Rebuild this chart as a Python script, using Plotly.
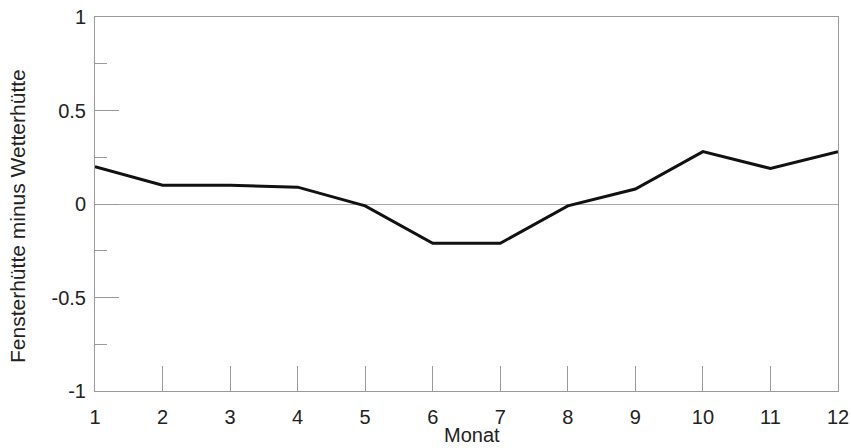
import plotly.graph_objects as go

# Monthly difference: window shelter minus standard weather shelter
months = [1, 2, 3, 4, 5, 6, 7, 8, 9, 10, 11, 12]
difference = [0.20, 0.10, 0.10, 0.09, -0.01, -0.21, -0.21, -0.01, 0.08, 0.28, 0.19, 0.28]

x_ticks = [1, 2, 3, 4, 5, 6, 7, 8, 9, 10, 11, 12]
x_tick_labels = ["1", "2", "3", "4", "5", "6", "7", "8", "9", "10", "11", "12"]
y_ticks = [-1, -0.5, 0, 0.5, 1]
y_tick_labels = ["-1", "-0.5", "0", "0.5", "1"]

x_title = "Monat"
y_title = "Fensterhütte minus Wetterhütte"

FONT = "Liberation Sans, Arial, sans-serif"
AXIS_GREY = "#9a9a9a"
TEXT = "#222222"

fig = go.Figure(
    go.Scatter(
        x=months,
        y=difference,
        mode="lines",
        line=dict(color="#111111", width=3),
        showlegend=False,
        hoverinfo="skip",
    )
)

fig.update_layout(
    width=851,
    height=448,
    margin=dict(l=95, r=13, t=17, b=57),
    paper_bgcolor="white",
    plot_bgcolor="white",
    font=dict(family=FONT, size=20, color=TEXT),
)

fig.update_xaxes(
    range=[1, 12],
    tickvals=x_ticks,
    ticktext=x_tick_labels,
    ticks="inside",
    ticklen=25,
    tickwidth=1,
    tickcolor=AXIS_GREY,
    showline=True,
    linecolor=AXIS_GREY,
    linewidth=1,
    mirror=True,
    showgrid=False,
    zeroline=False,
    automargin=False,
    tickfont=dict(size=20),
    ticklabelstandoff=8,
)

fig.update_yaxes(
    range=[-1, 1],
    tickvals=y_ticks,
    ticktext=y_tick_labels,
    ticks="inside",
    ticklen=24,
    tickwidth=1,
    tickcolor=AXIS_GREY,
    minor=dict(ticks="inside", ticklen=12, tickcolor=AXIS_GREY, dtick=0.25, tick0=0),
    showline=True,
    linecolor=AXIS_GREY,
    linewidth=1,
    mirror=True,
    showgrid=False,
    zeroline=True,
    zerolinecolor="#aaaaaa",
    zerolinewidth=1,
    automargin=False,
    tickfont=dict(size=20),
    ticklabelstandoff=4,
)

# Axis titles, placed relative to the plotting area
fig.add_annotation(
    text=x_title, xref="paper", yref="paper", x=0.507, y=0,
    xanchor="center", yanchor="bottom", yshift=-56,
    showarrow=False, borderpad=0, font=dict(size=20, color=TEXT),
)
fig.add_annotation(
    text=y_title, xref="paper", yref="paper", x=0, y=0.5,
    xanchor="center", yanchor="middle", xshift=-78, yshift=-12,
    textangle=-90, showarrow=False, font=dict(size=21, color=TEXT),
)

fig.write_html("out.html")
